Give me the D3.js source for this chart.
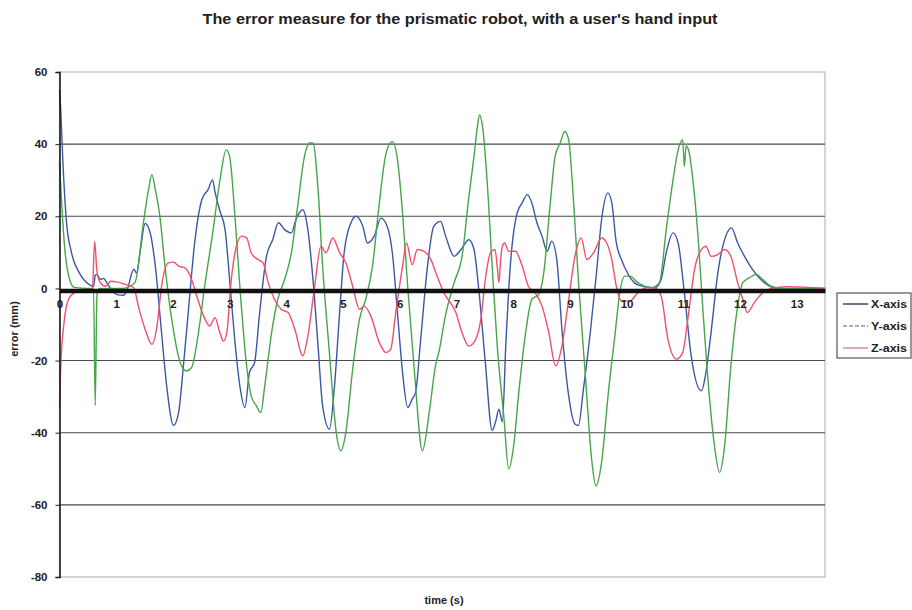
<!DOCTYPE html>
<html>
<head>
<meta charset="utf-8">
<script src="https://cdn.jsdelivr.net/npm/d3@7"></script>
<style>
  body { margin: 0; background: #fff; }
  text { font-family: "Liberation Sans", Arial, sans-serif; fill: #222; }
</style>
</head>
<body>
<div id="chart"></div>
<script>
// chart text
const title = "The error measure for the prismatic robot, with a user's hand input";
const xLabel = "time (s)";
const yLabel = "error (mm)";
const xTicks = [0, 1, 2, 3, 4, 5, 6, 7, 8, 9, 10, 11, 12, 13];
const yTicks = [60, 40, 20, 0, -20, -40, -60, -80];
const seriesNames = ["X-axis", "Y-axis", "Z-axis"];

// [time (s), error (mm)]
const xAxisErr = [[0,55],[0.02,50],[0.06,35],[0.12,19],[0.21,10],[0.35,4.3],[0.53,1],[0.6,0.5],[0.63,3.6],[0.66,3.9],[0.72,2.5],[0.78,2.8],[0.84,1.4],[0.9,0],[1.01,-1.7],[1.13,-1.9],[1.2,0],[1.31,5.3],[1.36,4.3],[1.42,9.9],[1.51,18],[1.6,15.4],[1.69,6.2],[1.8,-12.3],[1.89,-27],[2.01,-38],[2.1,-34.4],[2.18,-22.4],[2.27,-6.7],[2.39,13.5],[2.51,24.6],[2.62,27.4],[2.7,30.1],[2.74,26.9],[2.83,21.4],[2.92,16.3],[3.0,2.5],[3.09,-14.1],[3.18,-27],[3.27,-33],[3.35,-23.3],[3.44,-20.6],[3.53,-6.7],[3.65,8.9],[3.76,13.5],[3.86,18.2],[3.97,16.3],[4.09,15.4],[4.17,19.1],[4.29,21.8],[4.38,16.3],[4.47,2.5],[4.56,-16],[4.64,-32.5],[4.76,-39],[4.85,-27],[4.94,-6.7],[5.02,9.9],[5.14,18.2],[5.23,20],[5.35,17.2],[5.43,12.6],[5.55,14.5],[5.67,19.5],[5.78,17.2],[5.87,9.9],[5.96,-6.7],[6.05,-23.3],[6.14,-33],[6.22,-30.7],[6.28,-28.8],[6.37,-14.1],[6.49,6.2],[6.6,17.2],[6.72,18.6],[6.81,14.5],[6.96,8.9],[7.08,10.8],[7.22,13.5],[7.31,10.8],[7.4,-1.2],[7.51,-20.6],[7.63,-39.4],[7.69,-37],[7.75,-33.5],[7.81,-37],[7.87,-16],[7.95,6.2],[8.07,20.9],[8.16,23.7],[8.25,26],[8.33,23.7],[8.42,18.2],[8.51,14.5],[8.6,10.3],[8.68,13.1],[8.77,8],[8.86,-11.3],[8.98,-29.8],[9.09,-37.6],[9.15,-38],[9.24,-27.9],[9.36,-12.3],[9.47,4.3],[9.56,19.1],[9.67,26.5],[9.74,23.7],[9.82,12.6],[9.91,8],[10.03,3.9],[10.18,1.1],[10.32,0.5],[10.5,0.2],[10.61,2.5],[10.7,9.9],[10.82,15.4],[10.91,12.6],[11.02,-1.2],[11.14,-18.7],[11.32,-28.4],[11.4,-23.3],[11.49,-12.3],[11.61,4.3],[11.75,14.5],[11.85,16.8],[11.96,12.6],[12.08,8.9],[12.22,5.3],[12.4,2],[12.6,0.2],[12.84,0],[13.5,0]];

const yAxisErr = [[0,35],[0.03,26],[0.09,11.5],[0.18,2.4],[0.26,0.3],[0.5,0],[0.6,0],[0.63,-32.5],[0.66,-2],[0.7,0],[1.1,0],[1.33,1.6],[1.48,18.2],[1.57,27.4],[1.63,31.5],[1.69,27.4],[1.77,20],[1.86,6.2],[1.98,-8.6],[2.13,-20.6],[2.24,-22.9],[2.33,-21.9],[2.45,-12.3],[2.56,0.6],[2.71,16.3],[2.83,30.1],[2.94,38.4],[3.0,36.6],[3.09,20.9],[3.18,0.6],[3.3,-21.5],[3.38,-29.8],[3.47,-32.5],[3.55,-34.4],[3.62,-27],[3.74,-12.3],[3.85,-3],[3.97,2.5],[4.09,9.9],[4.2,22.8],[4.32,36.6],[4.41,40.3],[4.47,40.3],[4.56,27.4],[4.64,6.2],[4.76,-17.8],[4.88,-39.9],[4.96,-45],[5.05,-39.9],[5.17,-22.4],[5.29,-8.6],[5.4,-3],[5.52,6.2],[5.64,23.7],[5.76,37.5],[5.87,40.7],[5.96,35.7],[6.05,20.9],[6.14,0.6],[6.26,-23.3],[6.4,-45],[6.52,-34.4],[6.63,-21.5],[6.7,-17],[6.8,-8],[6.96,1.6],[7.1,8.9],[7.22,25.5],[7.31,36.6],[7.37,44.9],[7.41,48.1],[7.46,44.9],[7.54,30.1],[7.63,6.2],[7.72,-16],[7.84,-36.2],[7.92,-50],[8.01,-43.6],[8.1,-28.8],[8.22,-12.3],[8.33,-3],[8.45,-1.7],[8.54,4.3],[8.65,22.8],[8.74,36.6],[8.83,40.3],[8.91,43.5],[8.98,41.2],[9.06,25.5],[9.15,2.5],[9.27,-23.3],[9.39,-48.2],[9.46,-54.7],[9.56,-48.2],[9.68,-28.8],[9.8,-12.3],[9.88,-1.2],[9.97,3.4],[10.06,3.4],[10.2,1.6],[10.44,0.2],[10.58,1.6],[10.7,16.3],[10.82,30.1],[10.91,38.4],[10.99,41.2],[11.02,33.8],[11.05,39.5],[11.1,38],[11.17,30.1],[11.26,14.5],[11.35,-6.7],[11.46,-29.8],[11.55,-43.6],[11.64,-51],[11.73,-43.6],[11.84,-21.5],[11.96,-4.9],[12.05,1.6],[12.17,3],[12.29,3.9],[12.4,2.5],[12.55,0.6],[12.73,0],[13.5,0]];

const zAxisErr = [[0,-33],[0.02,-22.4],[0.08,-9.5],[0.16,-3],[0.28,-1],[0.46,-0.3],[0.58,-0.3],[0.62,13.1],[0.66,4.8],[0.72,1.6],[0.81,0.6],[0.9,2],[1.01,1.8],[1.16,1.1],[1.31,0.2],[1.39,-4.9],[1.51,-11.3],[1.63,-15.5],[1.72,-10.4],[1.8,0.6],[1.92,7.1],[2.01,7.3],[2.1,6.2],[2.21,5.7],[2.33,2.5],[2.42,-2.1],[2.54,-7.6],[2.65,-10.4],[2.74,-8.1],[2.83,-12.3],[2.89,-14.6],[2.95,-12.3],[3.03,2.5],[3.12,11.7],[3.21,14.5],[3.3,14],[3.38,9.9],[3.5,8],[3.59,7.1],[3.68,1.6],[3.79,-3],[3.91,-5.8],[4.03,-6.7],[4.15,-11.3],[4.29,-18.7],[4.38,-13.2],[4.5,0.6],[4.61,11.7],[4.7,9.9],[4.82,14],[4.94,9.9],[5.05,7.1],[5.17,0.6],[5.29,-5.8],[5.37,-4.9],[5.49,-7.6],[5.64,-15],[5.76,-17.8],[5.84,-16.9],[5.93,-6.7],[6.05,6.2],[6.12,12.6],[6.22,6.6],[6.31,10.8],[6.43,10.3],[6.55,8],[6.66,3.4],[6.78,-1.2],[6.99,-6.7],[7.1,-12.3],[7.22,-16],[7.34,-14.1],[7.43,-8.6],[7.51,2.5],[7.6,9.9],[7.68,10.8],[7.72,6],[7.75,1.6],[7.78,8],[7.81,11.7],[7.85,12.6],[7.92,10.3],[8.04,10.3],[8.16,6.2],[8.27,0.6],[8.39,-1.2],[8.51,-4.9],[8.63,-12.3],[8.75,-21.5],[8.86,-16],[8.98,-3],[9.09,8.9],[9.2,14],[9.3,8],[9.42,9.9],[9.56,14],[9.65,12.6],[9.74,8],[9.82,0.6],[9.91,-3.5],[10.06,-3.5],[10.2,-1.2],[10.35,0.2],[10.5,0.2],[10.61,-2.1],[10.73,-14.1],[10.88,-19.6],[10.99,-17.8],[11.08,-8.6],[11.2,5.3],[11.32,10.8],[11.4,11.7],[11.49,8.9],[11.61,9.4],[11.73,10.8],[11.84,8.9],[11.96,1.6],[12.05,-3],[12.13,-6.7],[12.25,-4],[12.4,-1.2],[12.54,-0.1],[12.84,0.5],[13.5,0]];

const lineColors = ["#3d56a6", "#46a64a", "#f0506a"];
const legendColors = ["#3b4660", "#8a9a8a", "#d88a96"];

const width = 912, height = 610;
const margin = { left: 59.5, right: 825, top: 72, bottom: 577 };

const svg = d3.select("#chart").append("svg")
  .attr("width", width)
  .attr("height", height);

const x = d3.scaleLinear().domain([0, 13.5]).range([margin.left, margin.right]);
const y = d3.scaleLinear().domain([-80, 60]).range([margin.bottom, margin.top]);

// plain hyphen minus, like the original
const plainNum = (d) => String(d);

// plot frame (light)
svg.append("rect")
  .attr("x", margin.left).attr("y", margin.top)
  .attr("width", margin.right - margin.left)
  .attr("height", margin.bottom - margin.top)
  .attr("fill", "#fff")
  .attr("stroke", "#b4b8cc")
  .attr("stroke-width", 1.2);

// horizontal gridlines
svg.append("g")
  .selectAll("line")
  .data(yTicks.filter((d) => d !== 60 && d !== -80 && d !== 0))
  .enter().append("line")
  .attr("x1", margin.left).attr("x2", margin.right)
  .attr("y1", (d) => y(d)).attr("y2", (d) => y(d))
  .attr("stroke", "#4a4a4a")
  .attr("stroke-width", 1.1);

// series
const line = d3.line()
  .x((d) => x(d[0]))
  .y((d) => y(d[1]))
  .curve(d3.curveMonotoneX);

[xAxisErr, yAxisErr, zAxisErr].forEach((series, i) => {
  svg.append("path")
    .datum(series)
    .attr("fill", "none")
    .attr("stroke", lineColors[i])
    .attr("stroke-width", 1.4)
    .attr("stroke-linejoin", "round")
    .attr("d", line);
});

// heavy x axis along zero, labels just below it
const xAxis = svg.append("g")
  .attr("transform", "translate(0," + (y(0) + 2) + ")")
  .call(d3.axisBottom(x).tickValues(xTicks).tickSize(0).tickPadding(9).tickFormat(plainNum));
xAxis.select(".domain").attr("stroke", "#111").attr("stroke-width", 4.5);
xAxis.selectAll("text")
  .style("font-family", "'Liberation Sans', Arial, sans-serif")
  .style("font-size", "11.5px")
  .style("font-weight", "bold")
  .attr("fill", "#333");

// y axis
const yAxis = svg.append("g")
  .attr("transform", "translate(" + margin.left + ",0)")
  .call(d3.axisLeft(y).tickValues(yTicks).tickSize(4).tickPadding(8).tickFormat(plainNum));
yAxis.select(".domain").attr("stroke", "#111").attr("stroke-width", 1.5);
yAxis.selectAll(".tick line").attr("stroke", "#222");
yAxis.selectAll("text")
  .style("font-family", "'Liberation Sans', Arial, sans-serif")
  .style("font-size", "11.5px")
  .style("font-weight", "bold")
  .attr("fill", "#333");

// title
svg.append("text")
  .attr("x", 460).attr("y", 24)
  .attr("text-anchor", "middle")
  .attr("textLength", 515)
  .attr("lengthAdjust", "spacingAndGlyphs")
  .style("font-size", "14px")
  .style("font-weight", "bold")
  .text(title);

// axis titles
svg.append("text")
  .attr("x", 444).attr("y", 604)
  .attr("text-anchor", "middle")
  .style("font-size", "11px")
  .style("font-weight", "bold")
  .text(xLabel);

svg.append("text")
  .attr("transform", "translate(18,329) rotate(-90)")
  .attr("text-anchor", "middle")
  .style("font-size", "11px")
  .style("font-weight", "bold")
  .text(yLabel);

// legend
const legend = svg.append("g");
legend.append("rect")
  .attr("x", 837).attr("y", 293)
  .attr("width", 74).attr("height", 65)
  .attr("fill", "#fff")
  .attr("stroke", "#555")
  .attr("stroke-width", 1.2);

seriesNames.forEach((name, i) => {
  const ly = 304 + i * 22;
  legend.append("line")
    .attr("x1", 843).attr("x2", 868)
    .attr("y1", ly).attr("y2", ly)
    .attr("stroke", legendColors[i])
    .attr("stroke-width", 1.5)
    .attr("stroke-dasharray", i === 1 ? "4,2" : null);
  legend.append("text")
    .attr("x", 871).attr("y", ly + 4)
    .attr("textLength", 36)
    .attr("lengthAdjust", "spacingAndGlyphs")
    .style("font-size", "11px")
    .style("font-weight", "bold")
    .attr("fill", "#333")
    .text(name);
});
</script>
</body>
</html>
